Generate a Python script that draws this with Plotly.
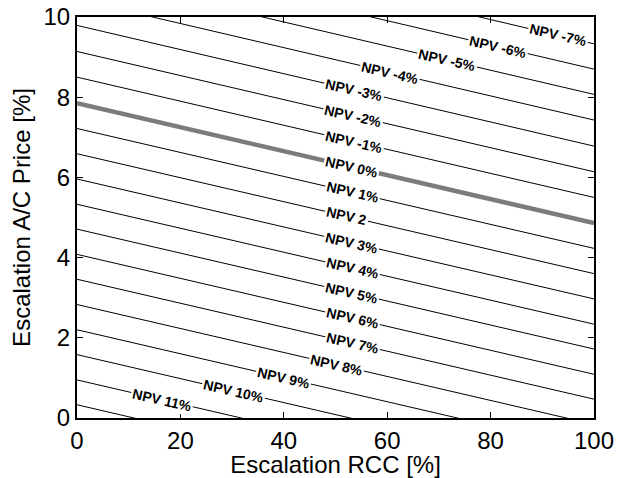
import plotly.graph_objects as go

# NPV contour levels (%) and where each contour line crosses x=0 and x=100
npv_levels = [-7, -6, -5, -4, -3, -2, -1, 0, 1, 2, 3, 4, 5, 6, 7, 8, 9, 10, 11, 12]
y_at_x0 = [12.36, 11.72, 11.08, 10.44, 9.79, 9.14, 8.50, 7.85, 7.22, 6.59,
           5.96, 5.33, 4.71, 4.08, 3.46, 2.83, 2.20, 1.58, 0.95, 0.33]
y_at_x100 = [9.33, 8.70, 8.07, 7.43, 6.78, 6.14, 5.50, 4.86, 4.23, 3.60,
             2.97, 2.34, 1.72, 1.09, 0.47, -0.16, -0.79, -1.41, -2.04, -2.66]
label_text = ["NPV -7%", "NPV -6%", "NPV -5%", "NPV -4%", "NPV -3%", "NPV -2%",
              "NPV -1%", "NPV 0%", "NPV 1%", "NPV 2", "NPV 3%", "NPV 4%",
              "NPV 5%", "NPV 6%", "NPV 7%", "NPV 8%", "NPV 9%", "NPV 10%",
              "NPV 11%", None]
label_x = [93.1, 81.5, 71.5, 60.6, 53.5, 53.3, 53.5, 53.1, 53.3, 52.2,
           53.1, 53.3, 53.1, 53.3, 53.3, 50.1, 40.0, 30.2, 16.4, None]

x_ticks = [0, 20, 40, 60, 80, 100]
y_ticks = [0, 2, 4, 6, 8, 10]
x_title = "Escalation RCC [%]"
y_title = "Escalation A/C Price [%]"

FONT = "Liberation Sans, Arial, Helvetica"

fig = go.Figure()
annotations = []
for lev, y0, y1, txt, lx in zip(npv_levels, y_at_x0, y_at_x100, label_text, label_x):
    is_zero = (lev == 0)
    fig.add_trace(go.Scatter(
        x=[0, 100], y=[y0, y1], mode="lines",
        line=dict(color="#7c7c7c" if is_zero else "black", width=4.5 if is_zero else 1),
        showlegend=False, hoverinfo="skip"))
    if txt is not None:
        ly = y0 + (y1 - y0) * lx / 100.0
        annotations.append(dict(
            x=lx, y=ly, xref="x", yref="y", text="<b>" + txt + "</b>",
            showarrow=False, textangle=13, bgcolor="white", borderpad=1,
            font=dict(family=FONT, size=14, color="black"),
            xanchor="center", yanchor="middle"))

axis_common = dict(
    showline=True, linecolor="black", linewidth=2, mirror="allticks",
    ticks="inside", ticklen=6, tickwidth=1, tickcolor="black",
    showgrid=False, zeroline=False, automargin=False,
    tickfont=dict(family=FONT, size=24, color="black"),
)

fig.update_layout(
    width=629, height=478,
    margin=dict(l=77, r=35, t=17, b=60),
    paper_bgcolor="white", plot_bgcolor="white",
    annotations=annotations,
    xaxis=dict(range=[0, 100], tickvals=x_ticks, ticktext=[str(v) for v in x_ticks],
               title=dict(text=x_title, standoff=9,
                          font=dict(family=FONT, size=24, color="black")),
               **axis_common),
    yaxis=dict(range=[0, 10], tickvals=y_ticks, ticktext=[str(v) for v in y_ticks],
               title=dict(text=y_title, standoff=6,
                          font=dict(family=FONT, size=24, color="black")),
               **axis_common),
)

# remove the browser's default page margin so the figure fills the window exactly
fig.write_html("out.html", config={"displayModeBar": False},
               post_script="document.body.style.margin='0';")
